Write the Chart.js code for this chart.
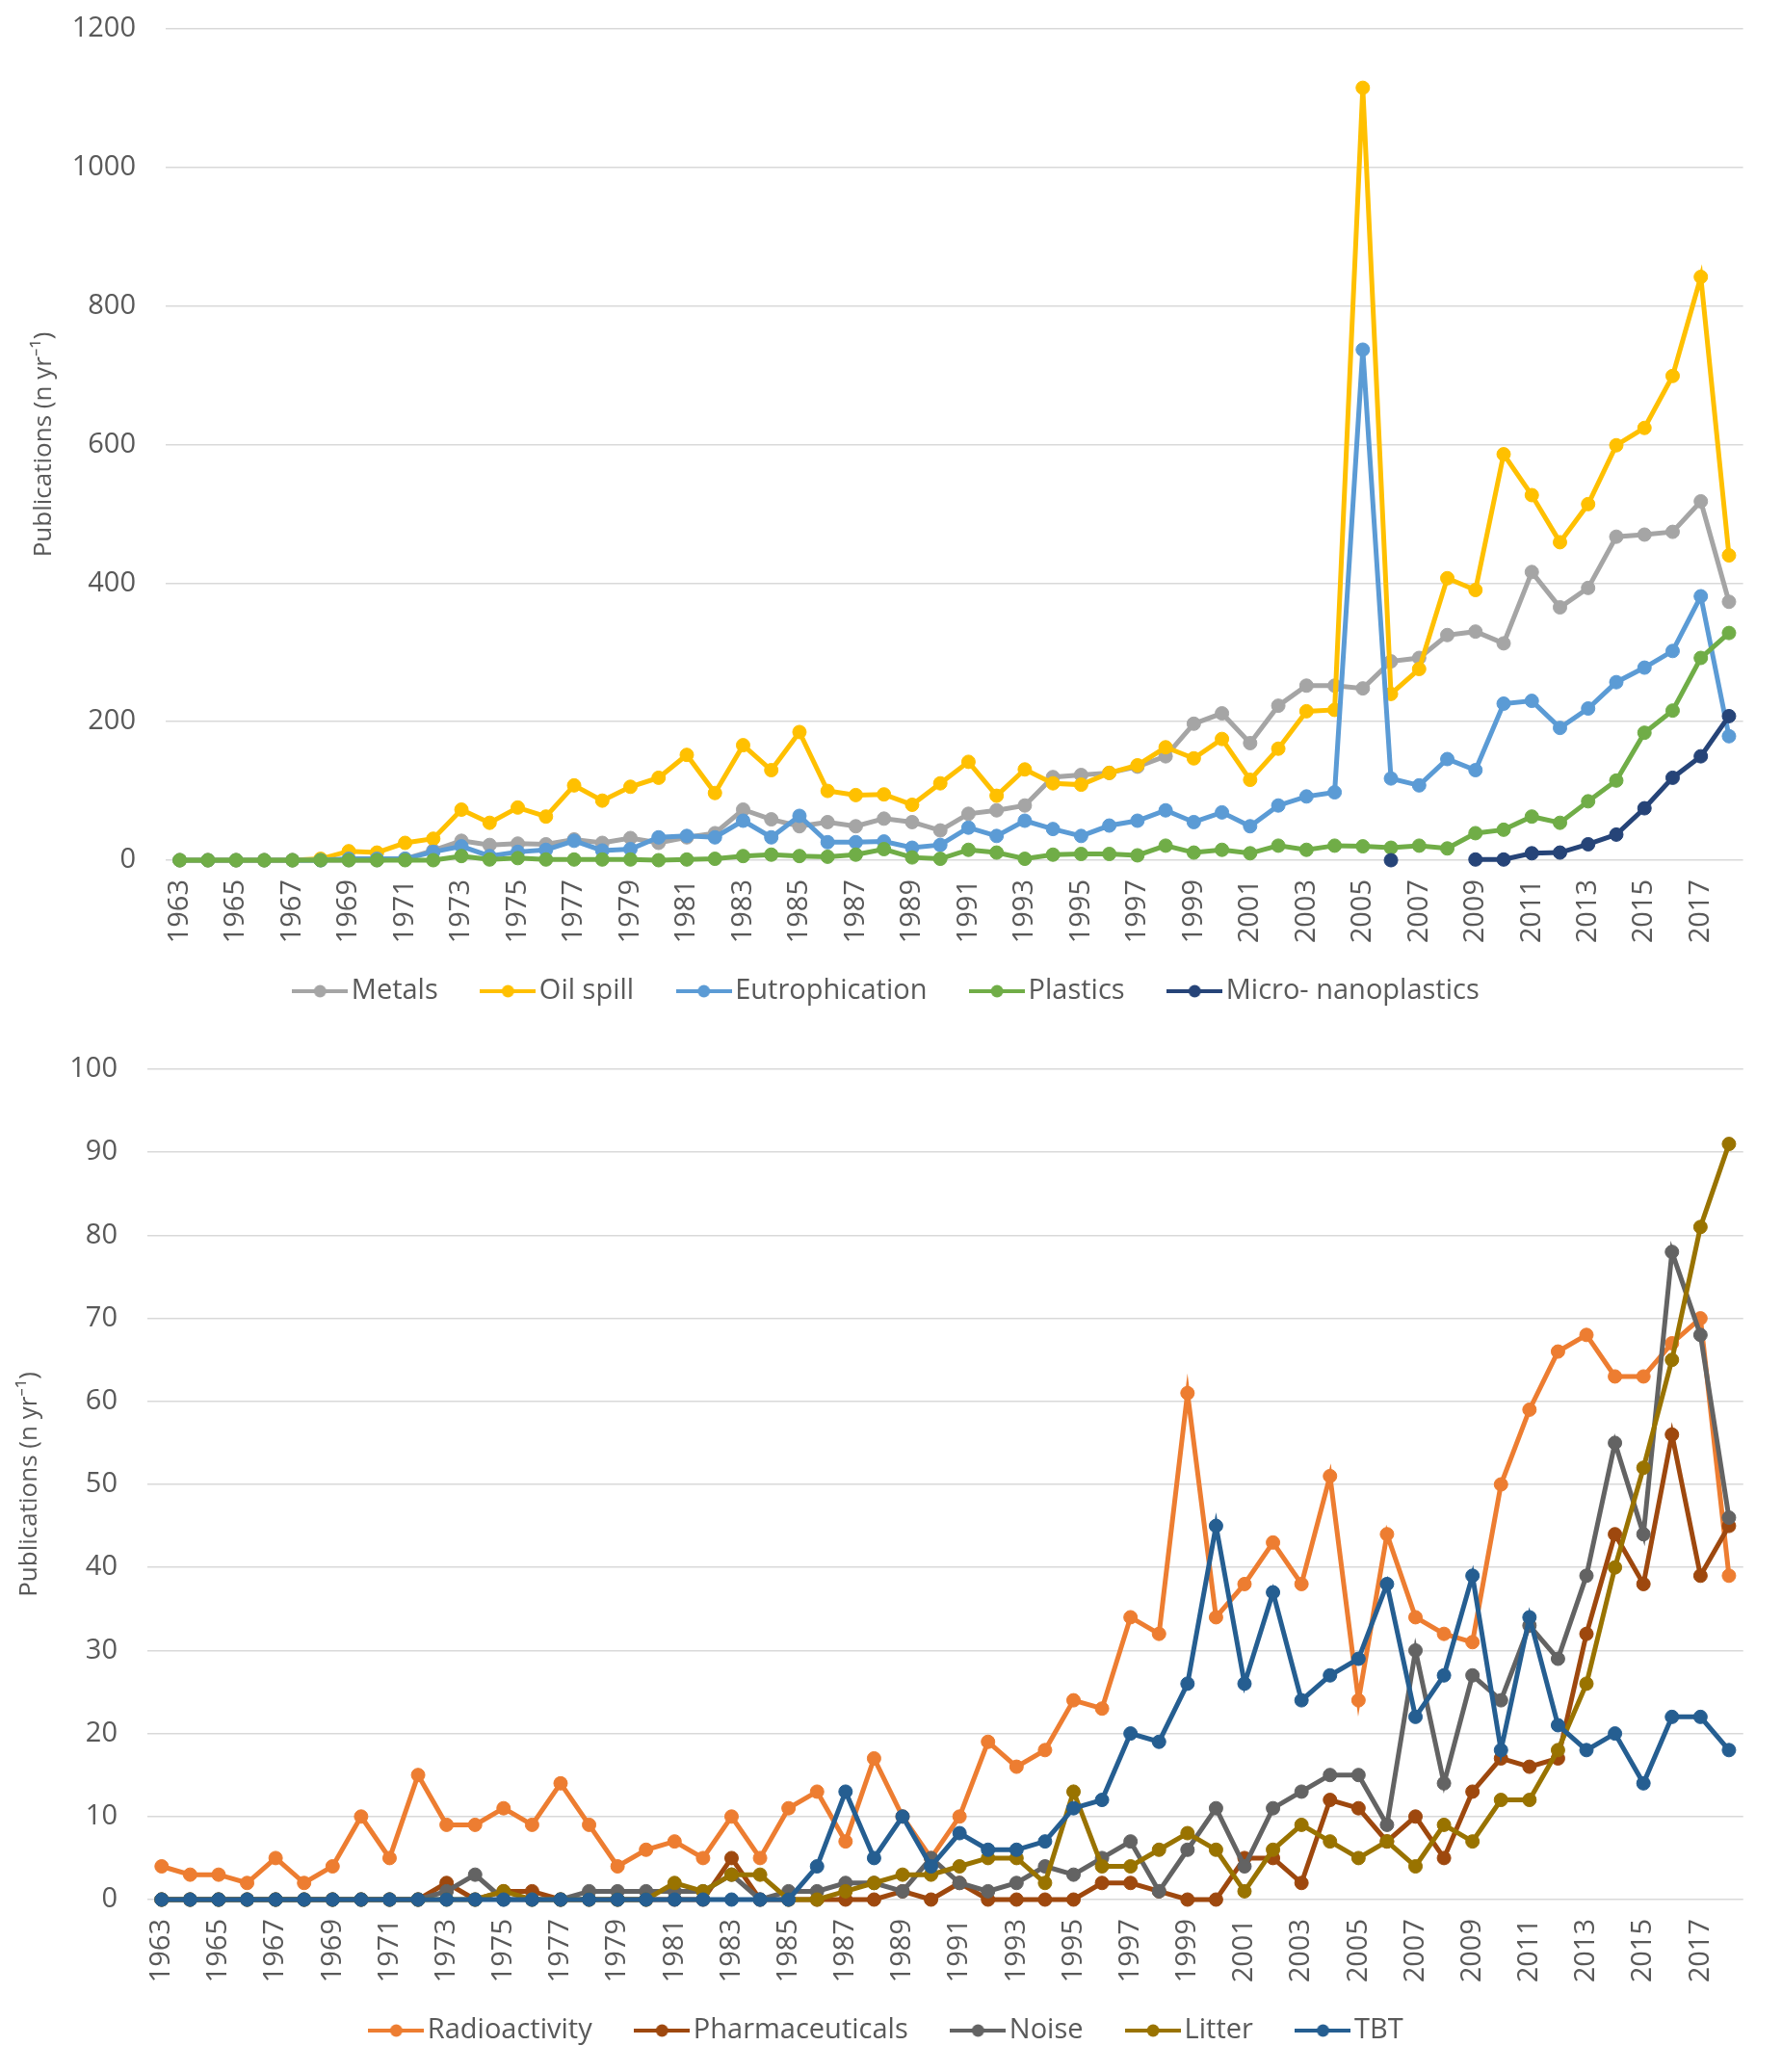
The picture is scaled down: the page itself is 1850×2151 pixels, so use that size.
<!DOCTYPE html>
<html>
<head>
<meta charset="utf-8">
<script src="https://cdn.jsdelivr.net/npm/chart.js@4.4.0/dist/chart.umd.min.js"></script>
<style>
    body { margin: 0; background: #fff; }
    #wrap { position: relative; width: 1850px; height: 2151px; overflow: hidden; }
    #topChart { position: absolute; left: 0; top: 0; }
    #bottomChart { position: absolute; left: 0; top: 1040px; }
</style>
</head>
<body>
<div id="wrap">
    <canvas id="topChart" width="1850" height="1060"></canvas>
    <canvas id="bottomChart" width="1850" height="1111"></canvas>
</div>
<script>
// Años (eje de categorías, ambos gráficos)
const years = ['1963','1964','1965','1966','1967','1968','1969','1970','1971','1972',
    '1973','1974','1975','1976','1977','1978','1979','1980','1981','1982',
    '1983','1984','1985','1986','1987','1988','1989','1990','1991','1992',
    '1993','1994','1995','1996','1997','1998','1999','2000','2001','2002',
    '2003','2004','2005','2006','2007','2008','2009','2010','2011','2012',
    '2013','2014','2015','2016','2017','2018'];

// Gráfico superior
const metals = [0,0,0,0,0,0,0,0,2,14,
    28,22,24,23,30,25,32,25,33,39,
    73,59,49,55,49,60,55,43,67,72,
    79,120,123,126,135,150,197,212,169,223,
    252,252,248,287,292,325,330,313,416,365,
    393,467,470,474,518,373];
const oilSpill = [0,0,0,0,0,2,13,11,25,31,
    73,54,76,63,108,86,106,119,152,97,
    166,130,185,100,94,95,80,111,142,93,
    131,111,109,126,137,163,147,175,116,161,
    215,217,1115,240,276,407,390,586,527,459,
    514,599,624,699,842,440];
const eutrophication = [0,0,0,0,0,0,2,2,2,12,
    20,6,12,15,28,14,16,33,35,33,
    57,33,64,26,26,27,18,22,47,35,
    57,45,35,50,57,72,55,69,49,79,
    92,98,737,118,108,146,130,226,230,191,
    219,257,278,302,381,179];
const plastics = [0,0,0,0,0,0,0,0,0,0,
    6,1,3,1,1,1,1,0,1,2,
    6,8,6,5,8,16,4,2,15,11,
    2,8,9,9,7,21,11,15,10,21,
    15,21,20,18,21,17,39,44,63,54,
    85,115,184,216,292,328];
const microNanoplastics = [null,null,null,null,null,null,null,null,null,null,
    null,null,null,null,null,null,null,null,null,null,
    null,null,null,null,null,null,null,null,null,null,
    null,null,null,null,null,null,null,null,null,null,
    null,null,null,0,null,null,1,1,10,11,
    23,37,75,119,150,208];

// Gráfico inferior
const radioactivity = [4,3,3,2,5,2,4,10,5,15,
    9,9,11,9,14,9,4,6,7,5,
    10,5,11,13,7,17,10,5,10,19,
    16,18,24,23,34,32,61,34,38,43,
    38,51,24,44,34,32,31,50,59,66,
    68,63,63,67,70,39];
const pharmaceuticals = [0,0,0,0,0,0,0,0,0,0,
    2,0,1,1,0,0,0,0,0,0,
    5,0,0,0,0,0,1,0,2,0,
    0,0,0,2,2,1,0,0,5,5,
    2,12,11,7,10,5,13,17,16,17,
    32,44,38,56,39,45];
const noise = [0,0,0,0,0,0,0,0,0,0,
    1,3,0,0,0,1,1,1,1,1,
    3,0,1,1,2,2,1,5,2,1,
    2,4,3,5,7,1,6,11,4,11,
    13,15,15,9,30,14,27,24,33,29,
    39,55,44,78,68,46];
const litter = [0,0,0,0,0,0,0,0,0,0,
    0,0,1,0,0,0,0,0,2,1,
    3,3,0,0,1,2,3,3,4,5,
    5,2,13,4,4,6,8,6,1,6,
    9,7,5,7,4,9,7,12,12,18,
    26,40,52,65,81,91];
const tbt = [0,0,0,0,0,0,0,0,0,0,
    0,0,0,0,0,0,0,0,0,0,
    0,0,0,4,13,5,10,4,8,6,
    6,7,11,12,20,19,26,45,26,37,
    24,27,29,38,22,27,39,18,34,21,
    18,20,14,22,22,18];

const topYMax = 1200, topYStep = 200;
const bottomYMax = 100, bottomYStep = 10;

const FONT = "'Open Sans', 'Noto Sans', sans-serif";
const TEXT = '#595959';
const GRID = '#d9d9d9';

// icono de la leyenda: línea con círculo
function legendIcon(color) {
    const c = document.createElement('canvas');
    c.width = 58;
    c.height = 16;
    const g = c.getContext('2d');
    g.strokeStyle = color;
    g.lineWidth = 4;
    g.beginPath();
    g.moveTo(0, 8);
    g.lineTo(58, 8);
    g.stroke();
    g.fillStyle = color;
    g.beginPath();
    g.arc(29, 8, 6.5, 0, Math.PI * 2);
    g.fill();
    return c;
}

function series(label, data, color, order) {
    return {
        label: label,
        data: data,
        borderColor: color,
        backgroundColor: color,
        pointBackgroundColor: color,
        pointBorderColor: color,
        borderWidth: 5,
        pointRadius: 7,
        pointBorderWidth: 1,
        tension: 0,
        clip: false,
        order: order
    };
}

function makeOptions(cfg) {
    return {
        responsive: false,
        animation: false,
        layout: { padding: { top: cfg.padTop, right: cfg.padSide, bottom: cfg.padBottom, left: cfg.padSide } },
        plugins: {
            tooltip: { enabled: false },
            legend: {
                position: 'bottom',
                labels: {
                    usePointStyle: true,
                    pointStyleWidth: 36,
                    padding: 32,
                    color: TEXT,
                    font: { family: FONT, size: 29 },
                    // espacio extra entre elementos (excepto el último)
                    generateLabels: (chart) => chart.data.datasets.map((ds, i, all) => ({
                        text: i < all.length - 1 ? ds.label + '   ' : ds.label,
                        pointStyle: legendIcon(ds.borderColor),
                        fillStyle: ds.borderColor,
                        strokeStyle: ds.borderColor,
                        lineWidth: 0,
                        hidden: false,
                        fontColor: TEXT,
                        datasetIndex: i
                    }))
                }
            }
        },
        scales: {
            x: {
                offset: true,
                grid: { display: false, drawTicks: false },
                border: { display: false },
                ticks: {
                    autoSkip: false,
                    minRotation: 90,
                    maxRotation: 90,
                    padding: 20,
                    color: TEXT,
                    font: { family: FONT, size: 29 },
                    callback: function (value, index) {
                        return index % 2 === 0 ? this.getLabelForValue(value) : '';
                    }
                },
                afterFit: (scale) => { scale.height = cfg.xHeight; }
            },
            y: {
                min: 0,
                max: cfg.yMax,
                grid: { color: GRID, lineWidth: 1.5, drawTicks: true, tickLength: 28, tickColor: 'rgba(0,0,0,0)' },
                border: { display: false },
                ticks: {
                    stepSize: cfg.yStep,
                    padding: 3,
                    color: TEXT,
                    font: { family: FONT, size: 29 },
                    callback: (v) => String(v)
                },
                title: {
                    display: true,
                    text: 'Publications (n yr\u207B\u00B9)',
                    color: TEXT,
                    font: { family: FONT, size: 26 },
                    padding: { top: cfg.titlePad, bottom: 0 }
                },
                afterFit: (scale) => { scale.width = cfg.yWidth; }
            }
        }
    };
}

new Chart(document.getElementById('topChart'), {
    type: 'line',
    data: {
        labels: years,
        datasets: [
            series('Metals', metals, '#a5a5a5', 5),
            series('Oil spill', oilSpill, '#ffc000', 4),
            series('Eutrophication', eutrophication, '#5b9bd5', 3),
            series('Plastics', plastics, '#70ad47', 2),
            series('Micro- nanoplastics', microNanoplastics, '#264478', 1)
        ]
    },
    options: makeOptions({ padTop: 30, padSide: 27, padBottom: 6.5, xHeight: 89.5, yWidth: 145, yMax: topYMax, yStep: topYStep, titlePad: 3 })
});

new Chart(document.getElementById('bottomChart'), {
    type: 'line',
    data: {
        labels: years,
        datasets: [
            series('Radioactivity', radioactivity, '#ed7d31', 5),
            series('Pharmaceuticals', pharmaceuticals, '#9e480e', 4),
            series('Noise', noise, '#636363', 3),
            series('Litter', litter, '#997300', 2),
            series('TBT', tbt, '#255e91', 1)
        ]
    },
    options: makeOptions({ padTop: 70, padSide: 30, padBottom: 18.5, xHeight: 89.5, yWidth: 123, yMax: bottomYMax, yStep: bottomYStep, titlePad: -14.8 })
});
</script>
</body>
</html>
